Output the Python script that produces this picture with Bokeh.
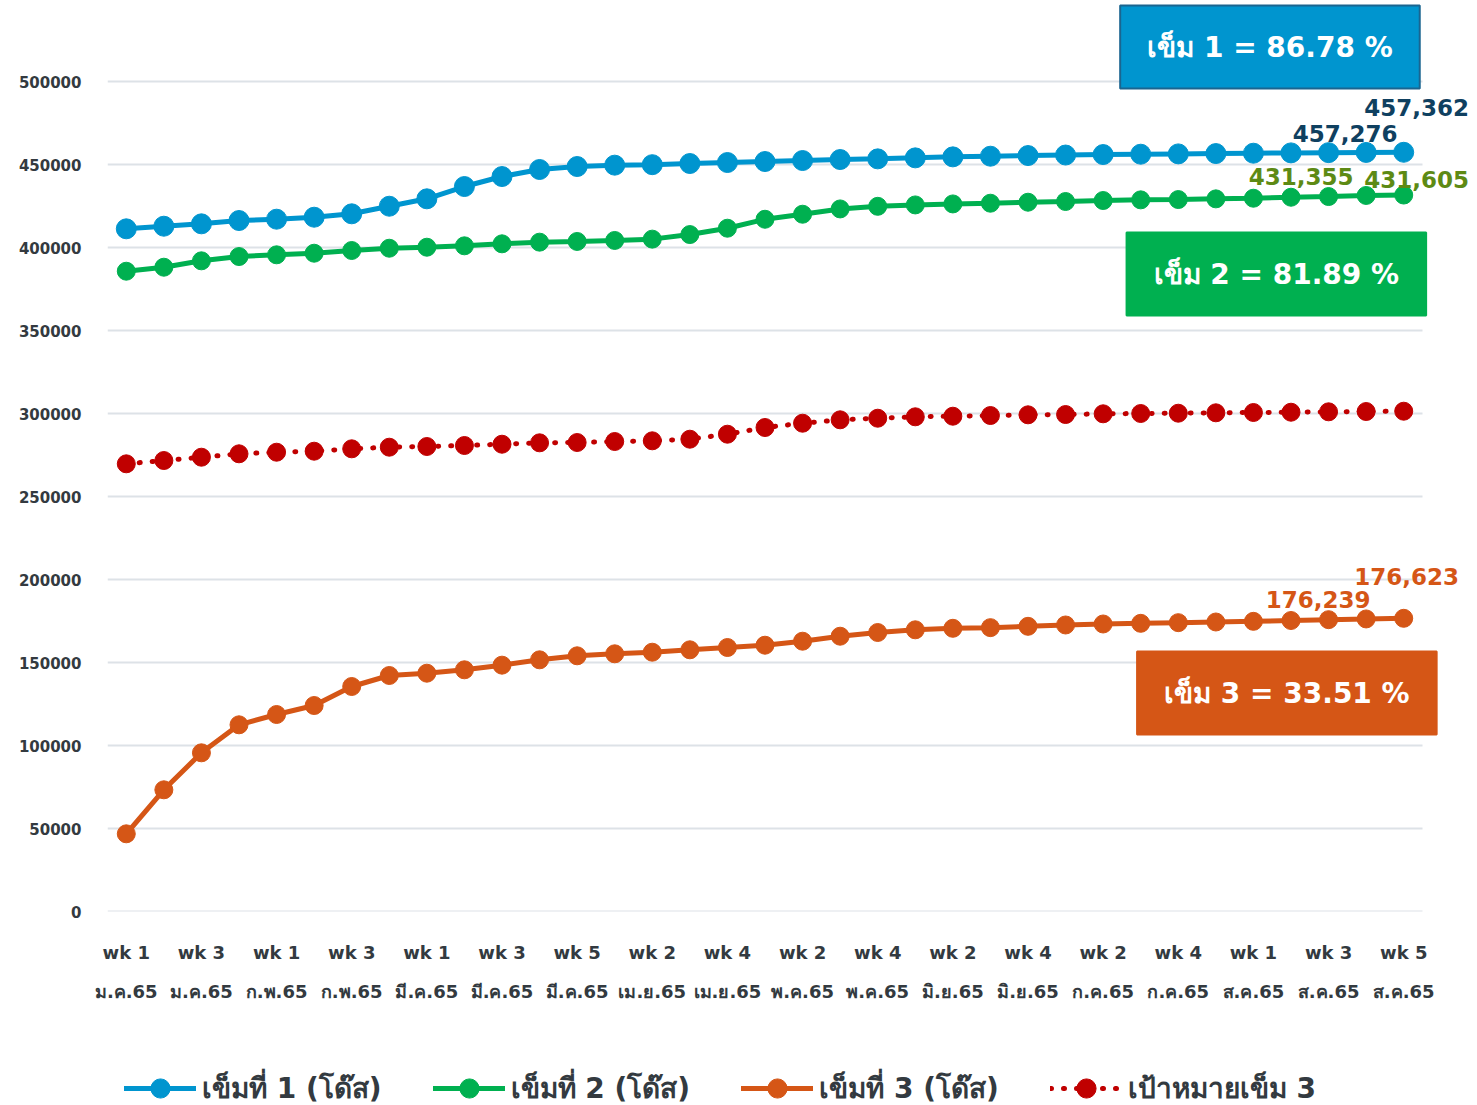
from bokeh.plotting import figure
from bokeh.layouts import column
from bokeh.models import Range1d, FixedTicker, LinearAxis, Label, Legend, LegendItem, NumeralTickFormatter
from bokeh.embed import file_html
from bokeh.resources import INLINE

weeks = ["wk 1", "wk 2", "wk 3", "wk 4",
         "wk 1", "wk 2", "wk 3", "wk 4",
         "wk 1", "wk 2", "wk 3", "wk 4", "wk 5",
         "wk 1", "wk 2", "wk 3", "wk 4",
         "wk 1", "wk 2", "wk 3", "wk 4",
         "wk 1", "wk 2", "wk 3", "wk 4",
         "wk 1", "wk 2", "wk 3", "wk 4", "wk 5",
         "wk 1", "wk 2", "wk 3", "wk 4", "wk 5"]
months = ["ม.ค.65", "ม.ค.65", "ม.ค.65", "ม.ค.65",
          "ก.พ.65", "ก.พ.65", "ก.พ.65", "ก.พ.65",
          "มี.ค.65", "มี.ค.65", "มี.ค.65", "มี.ค.65", "มี.ค.65",
          "เม.ย.65", "เม.ย.65", "เม.ย.65", "เม.ย.65",
          "พ.ค.65", "พ.ค.65", "พ.ค.65", "พ.ค.65",
          "มิ.ย.65", "มิ.ย.65", "มิ.ย.65", "มิ.ย.65",
          "ก.ค.65", "ก.ค.65", "ก.ค.65", "ก.ค.65", "ก.ค.65",
          "ส.ค.65", "ส.ค.65", "ส.ค.65", "ส.ค.65", "ส.ค.65"]

dose1 = [411260, 412830, 414270, 416260, 417050, 418250, 420300, 424870, 429330, 436740,
         442760, 447000, 448790, 449600, 449900, 450600, 451200, 451800, 452400, 453000,
         453400, 454000, 454600, 455000, 455400, 455700, 456000, 456200, 456400, 456600,
         456800, 457000, 457150, 457276, 457362]
dose2 = [385720, 388130, 391980, 394570, 395600, 396560, 398190, 399570, 400180, 401020,
         402220, 403220, 403640, 404240, 405040, 407800, 411620, 417020, 420050, 423240,
         424810, 425650, 426250, 426680, 427290, 427710, 428310, 428710, 428900, 429300,
         429690, 430290, 430700, 431355, 431605]
dose3 = [46800, 73310, 95600, 112470, 118670, 124090, 135540, 142170, 143560, 145600,
         148400, 151620, 154030, 155240, 156200, 157650, 159030, 160420, 162830, 165840,
         168070, 169700, 170600, 171000, 171800, 172600, 173200, 173600, 174000, 174400,
         174800, 175300, 175800, 176239, 176623]
target3 = [269690, 271680, 273670, 275720, 276680, 277290, 278730, 279700, 280120, 280720,
           281500, 282340, 282530, 283130, 283550, 284520, 287530, 291560, 294150, 296200,
           297160, 298010, 298370, 298790, 299210, 299390, 299820, 300000, 300180, 300420,
           300600, 300780, 301020, 301200, 301380]

series_names = ["เข็มที่ 1 (โด๊ส)", "เข็มที่ 2 (โด๊ส)", "เข็มที่ 3 (โด๊ส)", "เป้าหมายเข็ม 3"]
coverage = ["เข็ม 1 = 86.78 %", "เข็ม 2 = 81.89 %", "เข็ม 3 = 33.51 %"]
y_ticks = [0, 50000, 100000, 150000, 200000, 250000, 300000, 350000, 400000, 450000, 500000]

FONT = "DejaVu Sans"
TXT = "#333a40"
x = list(range(len(weeks)))
series = [dose1, dose2, dose3, target3]
colors = ["#0095cf", "#00b050", "#d55616", "#c00000"]
sizes = [20, 18, 18, 18]
dashes = ["solid", "solid", "solid", "1 12"]

W, LEFT, RIGHT = 1474, 107, 2
H_MAIN, H_LEG = 1050, 55
frame_w = W - LEFT - RIGHT
px_per_unit = 1315 / len(x)          # plotted span of the weekly slots
x_start = x[0] - 0.5
x_end = x_start + frame_w / px_per_unit

p = figure(width=W, height=H_MAIN, output_backend="svg", toolbar_location=None,
           x_range=Range1d(x_start, x_end), y_range=Range1d(0, 548800),
           min_border_left=LEFT, min_border_right=RIGHT, min_border_top=0,
           min_border_bottom=H_MAIN - 911)
p.outline_line_color = None
p.xgrid.grid_line_color = None
p.ygrid.grid_line_color = None

# horizontal gridlines over the weekly span only
p.segment(x0=[x[0] - 0.5] * len(y_ticks), x1=[x[-1] + 0.5] * len(y_ticks),
          y0=y_ticks, y1=y_ticks, line_color="#dde2e7", line_width=2)

p.yaxis.ticker = FixedTicker(ticks=y_ticks)
p.yaxis.formatter = NumeralTickFormatter(format="0")
p.yaxis.axis_line_color = None
p.yaxis.major_tick_line_color = None
p.yaxis.minor_tick_line_color = None
p.yaxis.major_label_text_font = FONT
p.yaxis.major_label_text_font_style = "bold"
p.yaxis.major_label_text_font_size = "15px"
p.yaxis.major_label_text_color = TXT
p.yaxis.major_label_standoff = 20

even = [i for i in x if i % 2 == 0]
ax1 = p.xaxis[0]
ax1.ticker = FixedTicker(ticks=even)
ax1.major_label_overrides = {i: weeks[i] for i in even}
ax2 = LinearAxis(ticker=FixedTicker(ticks=even),
                 major_label_overrides={i: months[i] for i in even})
p.add_layout(ax2, "below")
for ax in (ax1, ax2):
    ax.axis_line_color = None
    ax.major_tick_line_color = None
    ax.minor_tick_line_color = None
    ax.major_label_text_font = FONT
    ax.major_label_text_font_style = "bold"
    ax.major_label_text_font_size = "18px"
    ax.major_label_text_color = TXT
ax1.major_label_standoff = 24
ax2.major_label_standoff = 9

for ys, c, s, d in zip(series, colors, sizes, dashes):
    p.line(x, ys, line_color=c, line_width=5, line_dash=d, line_cap="round")
    p.scatter(x, ys, size=s, color=c)

def val_label(xi, yi, dx, dy, color):
    p.add_layout(Label(x=xi, y=yi, text=f"{yi:,}", x_offset=dx, y_offset=dy,
                       text_align="center", text_baseline="middle",
                       text_font=FONT, text_font_style="bold", text_font_size="23px",
                       text_color=color))

n = len(x) - 1
val_label(n, dose1[n], 13, 45, "#0f4060")
val_label(n - 1, dose1[n - 1], -21, 19, "#0f4060")
val_label(n, dose2[n], 13, 16, "#5d8a14")
val_label(n - 1, dose2[n - 1], -65, 19, "#5d8a14")
val_label(n, dose3[n], 3, 42, colors[2])
val_label(n - 1, dose3[n - 1], -48, 19, colors[2])

def box(xc, yc, text, color, border=None):
    p.add_layout(Label(x=xc, y=yc, text=text, text_align="center", text_baseline="middle",
                       text_font=FONT, text_font_style="bold", text_font_size="28px",
                       text_color="white", background_fill_color=color,
                       border_line_color=border if border else color, border_line_width=2,
                       padding=dict(top=25, right=27, bottom=25, left=27)))

box(30.44, 520780, coverage[0], colors[0], "#1a6590")
box(30.61, 384030, coverage[1], colors[1])
box(30.89, 131620, coverage[2], colors[2])

# legend strip below the chart (its sample glyphs sit outside its own view)
q = figure(width=W, height=H_LEG, output_backend="svg", toolbar_location=None,
           x_range=Range1d(-3, -2), y_range=Range1d(-3, -2),
           min_border=0, x_axis_type=None, y_axis_type=None)
q.outline_line_color = None
q.xgrid.grid_line_color = None
q.ygrid.grid_line_color = None
items = []
for name, ys, c, s, d in zip(series_names, series, colors, sizes, dashes):
    lr = q.line(x[-1:], ys[-1:], line_color=c, line_width=5, line_dash=d, line_cap="round")
    sr = q.scatter(x[-1:], ys[-1:], size=s, color=c)
    items.append(LegendItem(label=name, renderers=[lr, sr]))
legend = Legend(items=items, orientation="horizontal", location=(17, -7),
                glyph_width=72, glyph_height=48, spacing=51, label_standoff=6,
                padding=0, margin=0, border_line_color=None, background_fill_alpha=0,
                label_text_font=FONT, label_text_font_style="bold",
                label_text_font_size="28px", label_text_color=TXT)
q.add_layout(legend, "center")

open("out.html", "w").write(file_html(column(p, q, spacing=0), INLINE))
